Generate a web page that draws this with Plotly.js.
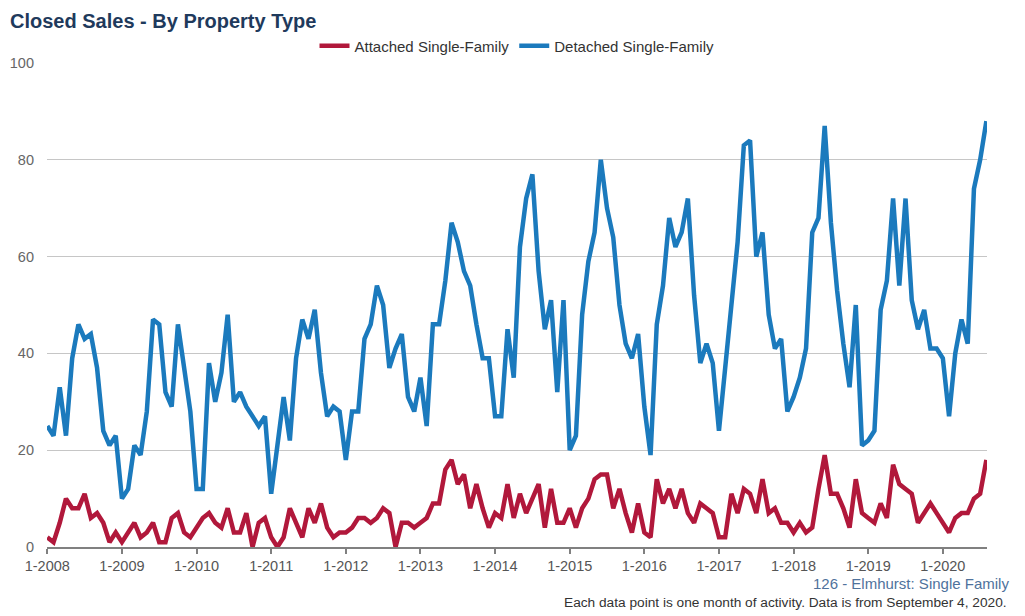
<!DOCTYPE html>
<html>
<head>
<meta charset="utf-8">
<script src="https://cdn.plot.ly/plotly-3.0.1.min.js"></script>
<style>
  html, body { margin: 0; padding: 0; background: #ffffff; }
  #chart { width: 1025px; height: 616px; }
</style>
</head>
<body>
<div id="chart"></div>
<script>
// ---- Data (monthly, Jan 2008 – Aug 2020) ----
const years = [2008, 2009, 2010, 2011, 2012, 2013, 2014, 2015, 2016, 2017, 2018, 2019, 2020];
const lastYearMonths = 8;

const attachedSF = [
  2, 1, 5, 10, 8, 8, 11, 6, 7, 5, 1, 3,
  1, 3, 5, 2, 3, 5, 1, 1, 6, 7, 3, 2,
  4, 6, 7, 5, 4, 8, 3, 3, 7, 0, 5, 6,
  2, 0, 2, 8, 5, 2, 8, 5, 9, 4, 2, 3,
  3, 4, 6, 6, 5, 6, 8, 7, 0, 5, 5, 4,
  5, 6, 9, 9, 16, 18, 13, 15, 8, 13, 8, 4,
  7, 6, 13, 6, 11, 7, 10, 13, 4, 12, 5, 5,
  8, 4, 8, 10, 14, 15, 15, 8, 12, 7, 3, 9,
  3, 2, 14, 9, 12, 8, 12, 7, 5, 9, 8, 7,
  2, 2, 11, 7, 12, 11, 7, 14, 7, 8, 5, 5,
  3, 5, 3, 4, 12, 19, 11, 11, 8, 4, 14, 7,
  6, 5, 9, 6, 17, 13, 12, 11, 5, 7, 9, 7,
  5, 3, 6, 7, 7, 10, 11, 18
];

const detachedSF = [
  25, 23, 33, 23, 39, 46, 43, 44, 37, 24, 21, 23,
  10, 12, 21, 19, 28, 47, 46, 32, 29, 46, 37, 28,
  12, 12, 38, 30, 36, 48, 30, 32, 29, 27, 25, 27,
  11, 21, 31, 22, 39, 47, 43, 49, 36, 27, 29, 28,
  18, 28, 28, 43, 46, 54, 50, 37, 41, 44, 31, 28,
  35, 25, 46, 46, 55, 67, 63, 57, 54, 46, 39, 39,
  27, 27, 45, 35, 62, 72, 77, 57, 45, 51, 32, 51,
  20, 23, 48, 59, 65, 80, 70, 64, 50, 42, 39, 44,
  29, 19, 46, 54, 68, 62, 65, 72, 52, 38, 42, 38,
  24, 37, 50, 63, 83, 84, 60, 65, 48, 41, 43, 28,
  31, 35, 41, 65, 68, 87, 67, 53, 42, 33, 50, 21,
  22, 24, 49, 55, 72, 54, 72, 51, 45, 49, 41, 41,
  39, 27, 40, 47, 42, 74, 80, 88
];

const tickLabels = ["1-2008", "1-2009", "1-2010", "1-2011", "1-2012", "1-2013", "1-2014",
                    "1-2015", "1-2016", "1-2017", "1-2018", "1-2019", "1-2020"];

// month categories "M-YYYY"
const months = [];
years.forEach(function (y, i) {
  const n = (i === years.length - 1) ? lastYearMonths : 12;
  for (let m = 1; m <= n; m++) months.push(m + "-" + y);
});

const FONT = "Liberation Sans, Arial, sans-serif";

const traces = [
  {
    x: months, y: attachedSF, type: "scatter", mode: "lines",
    name: "Attached Single-Family",
    line: { color: "#b1183b", width: 4.5 },
    hoverinfo: "x+y+name"
  },
  {
    x: months, y: detachedSF, type: "scatter", mode: "lines",
    name: "Detached Single-Family",
    line: { color: "#1b7abd", width: 4.5 },
    hoverinfo: "x+y+name"
  }
];

const layout = {
  width: 1025, height: 616,
  paper_bgcolor: "#ffffff", plot_bgcolor: "#ffffff",
  margin: { l: 47, r: 38, t: 63, b: 69 },
  font: { family: FONT, color: "#333333", size: 14 },
  title: {
    text: "<b>Closed Sales - By Property Type</b>",
    font: { family: FONT, size: 20, color: "#1f3a5c" },
    xref: "container", yref: "container",
    x: 10 / 1025, xanchor: "left",
    y: 1 - 21 / 616, yanchor: "middle"
  },
  showlegend: true,
  legend: {
    orientation: "h",
    x: 0.5, xanchor: "center",
    y: 1.035, yanchor: "middle",
    font: { family: FONT, size: 15, color: "#333333" },
    bgcolor: "rgba(0,0,0,0)",
    itemwidth: 30,
    traceorder: "normal"
  },
  xaxis: {
    type: "category",
    range: [-0.05, months.length - 0.9],
    tickmode: "array",
    tickvals: tickLabels,
    ticktext: tickLabels,
    tickangle: 0,
    ticks: "outside", ticklen: 5, tickwidth: 2, tickcolor: "#808080",
    showline: true, linecolor: "#808080", linewidth: 2,
    showgrid: false, zeroline: false,
    tickfont: { family: FONT, size: 14.5, color: "#555555" },
    fixedrange: true
  },
  yaxis: {
    range: [0, 100],
    tickmode: "linear", tick0: 0, dtick: 20,
    showgrid: true, gridcolor: "#c6c6c6", gridwidth: 1,
    zeroline: false, showline: false,
    ticks: "", ticklabelstandoff: 12,
    tickfont: { family: FONT, size: 14.5, color: "#666666" },
    fixedrange: true
  },
  annotations: [
    {
      text: "126 - Elmhurst: Single Family",
      xref: "paper", yref: "paper",
      x: (1011 - 47) / 940, y: (547 - 583) / 484,
      xanchor: "right", yanchor: "middle",
      showarrow: false,
      font: { family: FONT, size: 15, color: "#4f729c" }
    },
    {
      text: "Each data point is one month of activity. Data is from September 4, 2020.",
      xref: "paper", yref: "paper",
      x: (1009 - 47) / 940, y: (547 - 602) / 484,
      xanchor: "right", yanchor: "middle",
      showarrow: false,
      font: { family: FONT, size: 13.7, color: "#333333" }
    }
  ]
};

Plotly.newPlot("chart", traces, layout, { displayModeBar: false, staticPlot: true });
</script>
</body>
</html>
